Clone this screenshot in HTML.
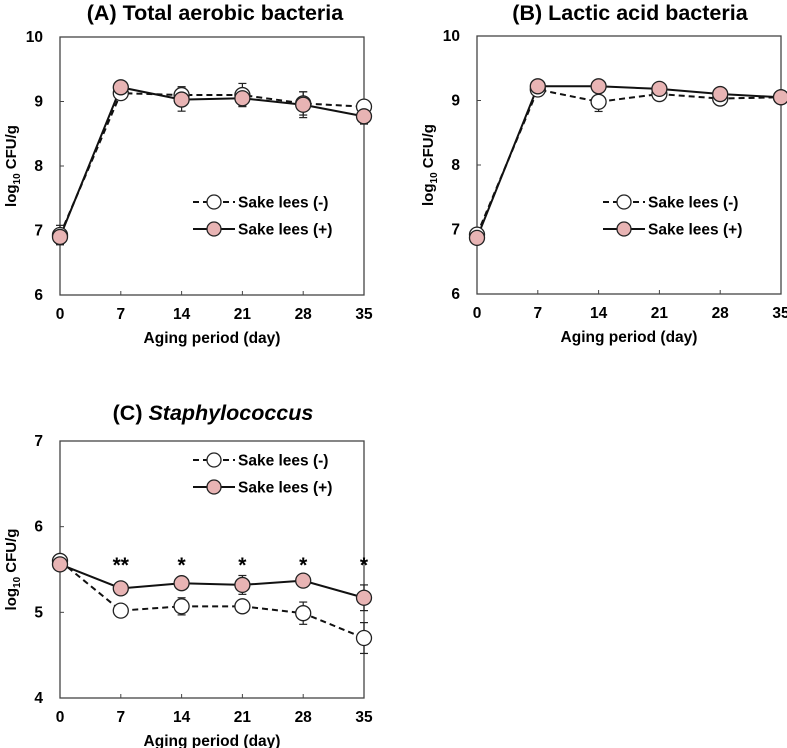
<!DOCTYPE html>
<html><head><meta charset="utf-8"><style>
html,body{margin:0;padding:0;background:#fff}
svg{display:block;font-family:"Liberation Sans",Arial,sans-serif;font-weight:bold}
</style></head><body>
<svg id="chart" width="787" height="748" viewBox="0 0 787 748"></svg>
<script>
const days = [0, 7, 14, 21, 28, 35];
const xTicks = ["0", "7", "14", "21", "28", "35"];
const aMinus = [6.93, 9.13, 9.10, 9.10, 8.97, 8.92];
const aMinusErr = [0.15, 0.10, 0.13, 0.18, 0.18, 0.05];
const aPlus = [6.90, 9.22, 9.03, 9.05, 8.95, 8.77];
const aPlusErr = [0.12, 0.08, 0.18, 0.12, 0.20, 0.12];
const bMinus = [6.92, 9.17, 8.98, 9.10, 9.03, 9.05];
const bMinusErr = [0.05, 0.10, 0.15, 0.10, 0.05, 0.03];
const bPlus = [6.87, 9.22, 9.22, 9.18, 9.10, 9.05];
const bPlusErr = [0.05, 0.08, 0.05, 0.05, 0.05, 0.03];
const cMinus = [5.60, 5.02, 5.07, 5.07, 4.99, 4.70];
const cMinusErr = [0.03, 0.04, 0.10, 0.05, 0.13, 0.18];
const cPlus = [5.56, 5.28, 5.34, 5.32, 5.37, 5.17];
const cPlusErr = [0.03, 0.04, 0.05, 0.11, 0.04, 0.15];
const cStars = ["", "**", "*", "*", "*", "*"];
const abYTicks = [6, 7, 8, 9, 10];
const cYTicks = [4, 5, 6, 7];

const NS = "http://www.w3.org/2000/svg";
const svg = document.getElementById("chart");
function mk(tag, attrs, parent, text) {
  const e = document.createElementNS(NS, tag);
  for (const k in attrs) e.setAttribute(k, attrs[k]);
  if (text !== undefined) e.textContent = text;
  (parent || svg).appendChild(e);
  return e;
}

function panel(p) {
  const g = mk("g", {});
  
  
  const xs = d => p.x0 + (d / 35) * (p.x1 - p.x0);
  const ys = v => p.y1 - (v - p.ymin) / (p.ymax - p.ymin) * (p.y1 - p.y0);
  const t = mk("text", {x: p.tx, y: p.ty, "text-anchor": "middle", "font-size": 21.5}, g);
  
  
  if (p.italic) {
    mk("tspan", {}, t, p.title);
    mk("tspan", {"font-style": "italic"}, t, p.italic);
  } else t.textContent = p.title;
  const fr = mk("rect", {x: p.x0, y: p.y0, width: p.x1 - p.x0, height: p.y1 - p.y0, fill: "none", stroke: "#444", "stroke-width": 1.3}, g);
  
  
  days.forEach((d, i) => {
    const x = xs(d);
    mk("line", {x1: x, x2: x, y1: p.y1, y2: p.y1 - 4, stroke: "#444", "stroke-width": 1}, g);
    const l = mk("text", {x: x, y: p.y1 + 24, "text-anchor": "middle", "font-size": 15.5}, g, xTicks[i]);
    
    
  });
  p.yTicks.forEach(v => {
    const y = ys(v);
    mk("line", {x1: p.x0, x2: p.x0 + 4, y1: y, y2: y, stroke: "#444", "stroke-width": 1}, g);
    const l = mk("text", {x: p.x0 - 17, y: y + 5, "text-anchor": "end", "font-size": 15.5}, g, String(v));
    
    
  });
  const xt = mk("text", {x: (p.x0 + p.x1) / 2, y: p.y1 + 48, "text-anchor": "middle", "font-size": 15.5}, g, "Aging period (day)");
  
  
  const yc = (p.y0 + p.y1) / 2, yx = p.x0 - 44;
  const yt = mk("text", {x: yx, y: yc, "text-anchor": "middle", "font-size": 15, transform: `rotate(-90 ${yx} ${yc})`}, g);
  
  
  mk("tspan", {}, yt, "log");
  mk("tspan", {"font-size": 10, dy: 4}, yt, "10");
  mk("tspan", {dy: -4}, yt, " CFU/g");
  const series = [
    {vals: p.minus, err: p.minusErr, fill: "#fff", dash: "6,4", name: "sake-lees-minus"},
    {vals: p.plus, err: p.plusErr, fill: "#e8b4b4", dash: "", name: "sake-lees-plus"}
  ];
  series.forEach(s => {
    const sg = mk("g", {}, g);
    
    
    s.vals.forEach((v, i) => {
      const x = xs(days[i]), e = s.err[i];
      mk("line", {x1: x, x2: x, y1: ys(v + e), y2: ys(v - e), stroke: "#222", "stroke-width": 1.2}, sg);
      mk("line", {x1: x - 4, x2: x + 4, y1: ys(v + e), y2: ys(v + e), stroke: "#222", "stroke-width": 1.2}, sg);
      mk("line", {x1: x - 4, x2: x + 4, y1: ys(v - e), y2: ys(v - e), stroke: "#222", "stroke-width": 1.2}, sg);
    });
    const pts = s.vals.map((v, i) => xs(days[i]) + "," + ys(v)).join(" ");
    const pl = mk("polyline", {points: pts, fill: "none", stroke: "#111", "stroke-width": 2, "stroke-dasharray": s.dash}, sg);
    
    
  });
  series.forEach(s => {
    s.vals.forEach((v, i) => {
      const c = mk("circle", {cx: xs(days[i]), cy: ys(v), r: 7.5, fill: s.fill, stroke: "#222", "stroke-width": 1.3}, g);
      
      
    });
  });
  if (p.stars) {
    p.stars.forEach((st, i) => {
      if (!st) return;
      const s = mk("text", {x: xs(days[i]), y: p.starY, "text-anchor": "middle", "font-size": 21}, g, st);
      
      
    });
  }
  series.forEach((s, k) => {
    const ly = p.legY + k * 27;
    const lg = mk("g", {}, g);
    
    
    mk("line", {x1: p.legX, x2: p.legX + 42, y1: ly, y2: ly, stroke: "#111", "stroke-width": 2, "stroke-dasharray": s.dash}, lg);
    mk("circle", {cx: p.legX + 21, cy: ly, r: 7, fill: s.fill, stroke: "#222", "stroke-width": 1.3}, lg);
    mk("text", {x: p.legX + 45, y: ly + 5.5, "font-size": 15.5}, lg, k ? "Sake lees (+)" : "Sake lees (-)");
  });
}

panel({id: "panel-a", x0: 60, x1: 364, y0: 37, y1: 295, ymin: 6, ymax: 10, yTicks: abYTicks,
  title: "(A) Total aerobic bacteria", tx: 215, ty: 20,
  minus: aMinus, minusErr: aMinusErr, plus: aPlus, plusErr: aPlusErr, legX: 193, legY: 202});
panel({id: "panel-b", x0: 477, x1: 781, y0: 36, y1: 294, ymin: 6, ymax: 10, yTicks: abYTicks,
  title: "(B) Lactic acid  bacteria", tx: 630, ty: 20,
  minus: bMinus, minusErr: bMinusErr, plus: bPlus, plusErr: bPlusErr, legX: 603, legY: 202});
panel({id: "panel-c", x0: 60, x1: 364, y0: 441, y1: 698, ymin: 4, ymax: 7, yTicks: cYTicks,
  title: "(C) ", italic: "Staphylococcus", tx: 213, ty: 420,
  minus: cMinus, minusErr: cMinusErr, plus: cPlus, plusErr: cPlusErr, legX: 193, legY: 460,
  stars: cStars, starY: 572});
</script>
</body></html>
